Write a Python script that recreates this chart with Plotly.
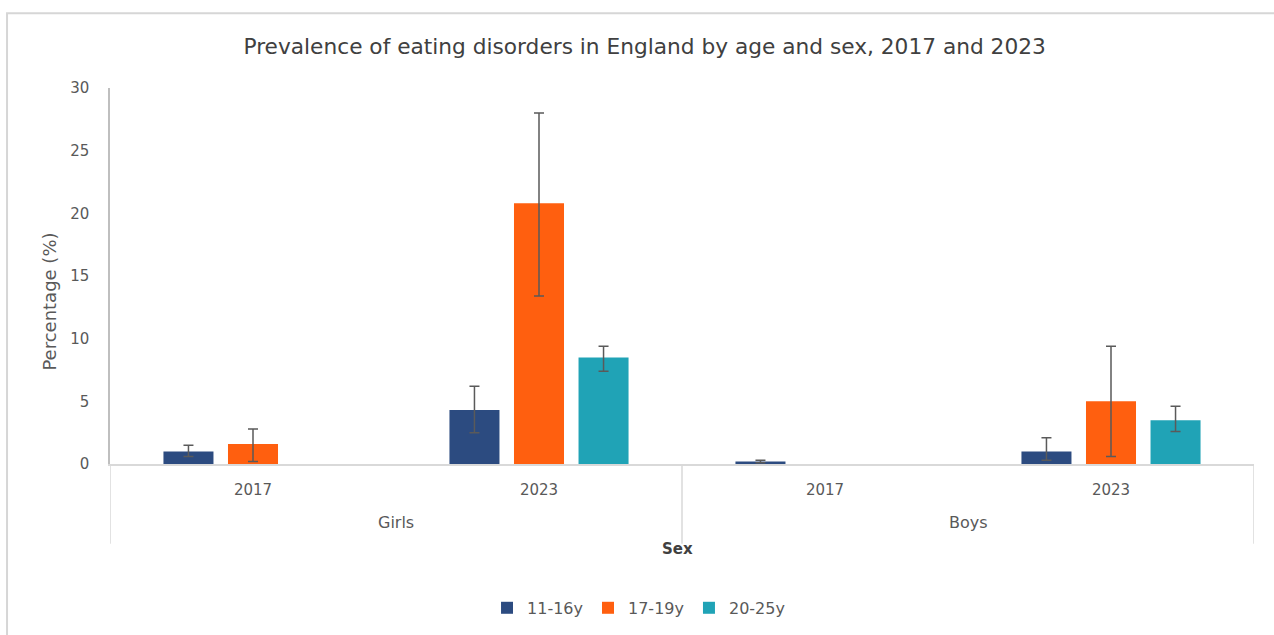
import plotly.graph_objects as go

# Categories: outer level (sex) and inner level (survey year)
sex = ["Girls", "Girls", "Boys", "Boys"]
years = ["2017", "2023", "2017", "2023"]

age_groups = ["11-16y", "17-19y", "20-25y"]

# Prevalence (%) with lower / upper confidence limits
prev_11_16 = [1.0, 4.3, 0.2, 1.0]
low_11_16 = [0.6, 2.5, 0.1, 0.3]
high_11_16 = [1.5, 6.2, 0.3, 2.1]

prev_17_19 = [1.6, 20.8, None, 5.0]
low_17_19 = [0.2, 13.4, None, 0.6]
high_17_19 = [2.8, 28.0, None, 9.4]

prev_20_25 = [None, 8.5, None, 3.5]
low_20_25 = [None, 7.4, None, 2.6]
high_20_25 = [None, 9.4, None, 4.6]

y_ticks = [0, 5, 10, 15, 20, 25, 30]

colors = ["#2C4B80", "#FF5F0F", "#20A3B6"]
FONT = "DejaVu Sans"
AXIS_GREY = "#d9d9d9"

# one slot per (sex, year) pair on the category axis
slots = list(range(len(years)))


def err_parts(vals, lows, highs):
    plus, minus = [], []
    for v, lo, hi in zip(vals, lows, highs):
        if v is None:
            plus.append(None)
            minus.append(None)
        else:
            plus.append(hi - v)
            minus.append(v - lo)
    return plus, minus


series = [
    (age_groups[0], prev_11_16, low_11_16, high_11_16),
    (age_groups[1], prev_17_19, low_17_19, high_17_19),
    (age_groups[2], prev_20_25, low_20_25, high_20_25),
]

fig = go.Figure()
for (name, vals, lows, highs), col in zip(series, colors):
    plus, minus = err_parts(vals, lows, highs)
    fig.add_trace(go.Bar(
        name=name,
        x=slots,
        y=vals,
        customdata=[f"{s} {yr}" for s, yr in zip(sex, years)],
        hovertemplate="%{customdata}<br>%{y}%<extra>" + name + "</extra>",
        marker=dict(color=col, line=dict(width=0)),
        error_y=dict(type="data", array=plus, arrayminus=minus, symmetric=False,
                     color="#5a5a5a", thickness=1.5, width=5),
    ))

# Outer grouping (sex): labels centred under each group, dividers at the edges
group_names = []
for s in sex:
    if s not in group_names:
        group_names.append(s)

annotations = []
shapes = []
edges = set()
for g in group_names:
    idx = [i for i, s in enumerate(sex) if s == g]
    lo, hi = min(idx) - 0.5, max(idx) + 0.5
    edges.update([lo, hi])
    annotations.append(dict(
        text=g, x=(lo + hi) / 2, y=-0.156, xref="x", yref="paper",
        xanchor="center", yanchor="middle", showarrow=False,
        font=dict(family=FONT, size=16, color="#595959"),
    ))
for e in sorted(edges):
    shapes.append(dict(
        type="line", xref="x", yref="paper", x0=e, x1=e, y0=0, y1=-0.212,
        line=dict(color=AXIS_GREY, width=1.5),
    ))

annotations.append(dict(
    text="<b>Sex</b>", x=0.4965, y=-0.225, xref="paper", yref="paper",
    xanchor="center", yanchor="middle", showarrow=False,
    font=dict(family=FONT, size=15, color="#404040"),
))
annotations.append(dict(
    text="Percentage (%)", x=-0.0524, y=0.432, xref="paper", yref="paper",
    xanchor="center", yanchor="middle", showarrow=False, textangle=-90,
    font=dict(family=FONT, size=18, color="#595959"),
))

# outer frame around the whole chart
shapes.append(dict(
    type="rect", xref="paper", yref="paper",
    x0=-0.090, x1=1.023, y0=-0.47, y1=1.199,
    line=dict(color="#d6d6d6", width=2), layer="below",
))

fig.update_layout(
    width=1274,
    height=635,
    margin=dict(l=110, r=20, t=88, b=170),
    paper_bgcolor="white",
    plot_bgcolor="white",
    barmode="group",
    bargap=0.323,
    bargroupgap=0.225,
    font=dict(family=FONT, color="#595959", size=14),
    title=dict(
        text="Prevalence of eating disorders in England by age and sex, 2017 and 2023",
        x=0.506, xanchor="center", xref="container",
        y=1 - 46 / 635, yanchor="middle",
        font=dict(family=FONT, size=21.7, color="#404040"),
    ),
    showlegend=True,
    legend=dict(
        orientation="h", x=0.462, xanchor="center", y=-0.379, yanchor="middle",
        font=dict(family=FONT, size=16, color="#595959"),
        itemwidth=30, traceorder="normal",
    ),
    xaxis=dict(
        range=[-0.5, len(years) - 0.5],
        tickvals=slots,
        ticktext=years,
        showline=True, linecolor=AXIS_GREY, linewidth=1.5,
        showgrid=False, zeroline=False,
        ticks="outside", ticklen=11, tickcolor="rgba(0,0,0,0)",
        tickfont=dict(family=FONT, size=15, color="#595959"),
    ),
    yaxis=dict(
        range=[0, 30],
        tickvals=y_ticks,
        showgrid=False,
        zeroline=False,
        showline=True, linecolor="#bfbfbf", linewidth=1.5,
        ticks="outside", ticklen=16, tickcolor="rgba(0,0,0,0)",
        tickfont=dict(family=FONT, size=15, color="#595959"),
    ),
    annotations=annotations,
    shapes=shapes,
)

fig.write_html("out.html")
